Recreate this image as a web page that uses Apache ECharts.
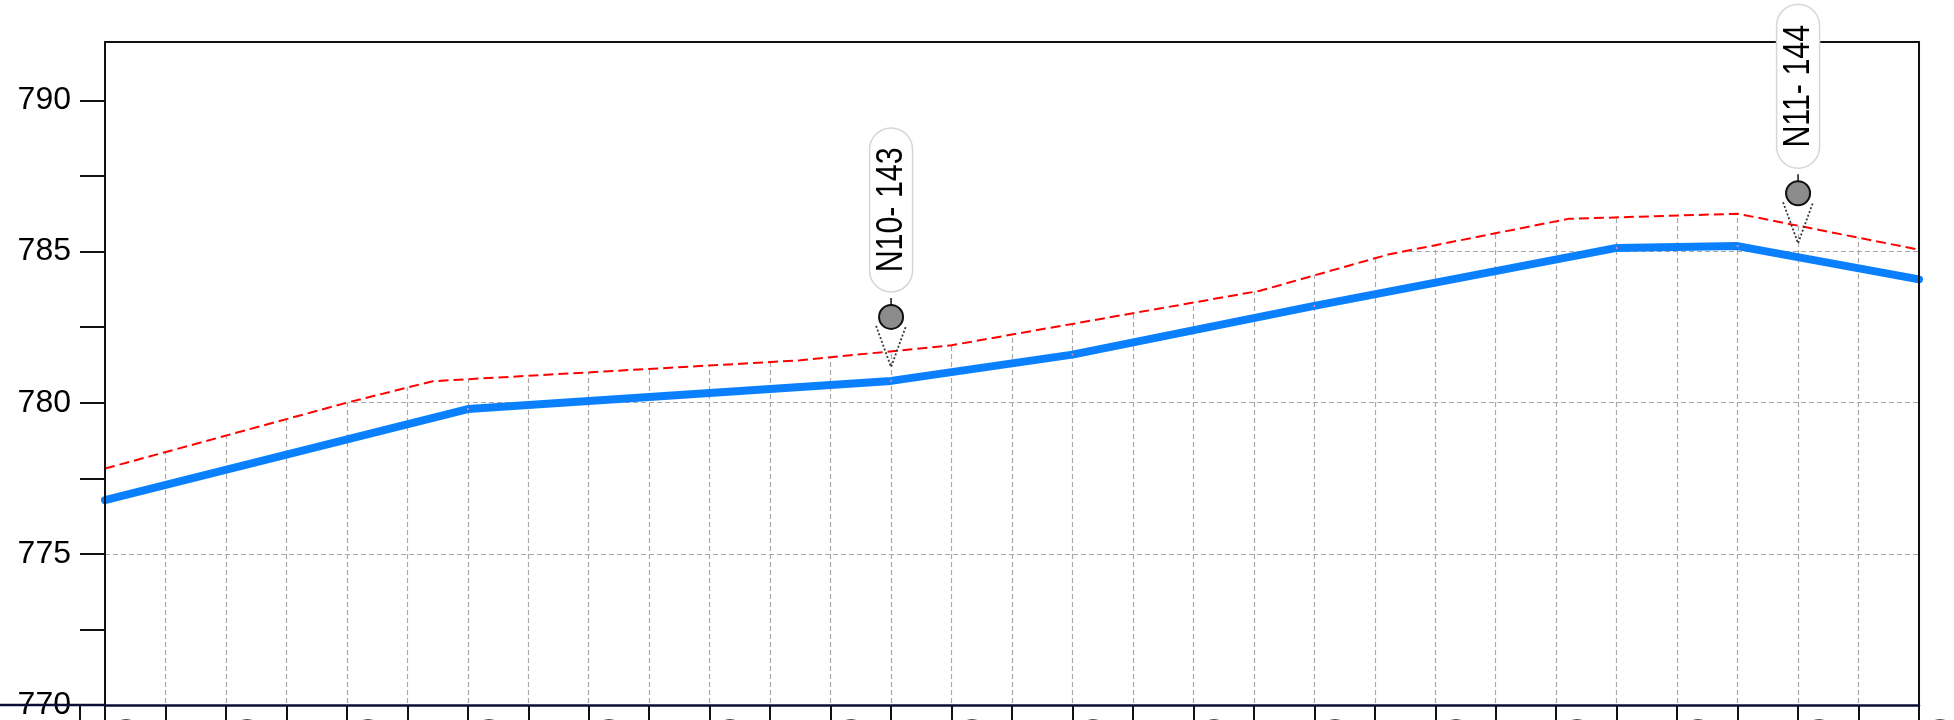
<!DOCTYPE html>
<html>
<head>
<meta charset="utf-8">
<script src="https://cdn.jsdelivr.net/npm/echarts@6/dist/echarts.min.js"></script>
<style>
html,body{margin:0;padding:0;background:#fff;}
#chart{width:1954px;height:720px;}
</style>
</head>
<body>
<div id="chart"></div>
<script>
// ---- data ----
const xTickValues = [0,20,40,60,80,100,120,140,160,180,200,220,240,260,280,300,320,340,360,380,400,420,440,460,480,500,520,540,560,580,600];
const xTickLabels = ['0+000','0+040','0+080','0+120','0+160','0+200','0+240','0+280','0+320','0+360','0+400','0+440','0+480','0+520','0+560','0+600'];
const yTickValues = [770,772.5,775,777.5,780,782.5,785,787.5,790];
const yLabelValues = [770,775,780,785,790];

const profileX = [0,120,260,320,400,500,540,600];
const profileY = [776.78,779.79,780.72,781.59,783.2,785.12,785.18,784.08];

const groundX = [0,80,108.4,230,280,382,424.4,484,540,600];
const groundY = [777.82,780.0,780.71,781.40,781.9,783.7,784.9,786.08,786.25,785.06];

const markerX = [260,560];
const markerY = [780.72,784.81];
const markerLabels = ['N10- 143','N11- 144'];

// ---- build ----
const FONT = '"Liberation Sans", Arial, sans-serif';
const X_MIN = 0, X_MAX = 600, Y_MIN = 770, Y_MAX = 791.93;
const GRID = {left:105, right:35, top:42, bottom:15};

const profileData = profileX.map((x,i)=>[x,profileY[i]]);
const groundData = groundX.map((x,i)=>[x,groundY[i]]);
const markerData = markerX.map((x,i)=>[x,markerY[i]]);
const xLabelMap = {};
xTickLabels.forEach((t,i)=>{ xLabelMap[i*40] = t; });

const chart = echarts.init(document.getElementById('chart'), null, {renderer:'canvas'});

const hidden = {show:false};
const option = {
  animation:false,
  backgroundColor:'#fff',
  grid:{left:GRID.left, right:GRID.right, top:GRID.top, bottom:GRID.bottom, containLabel:false, outerBoundsMode:'none'},
  xAxis:[
    { // grid lines (under the white fill)
      type:'value', min:X_MIN, max:X_MAX, interval:20, position:'bottom',
      axisLine:hidden, axisTick:hidden, axisLabel:hidden,
      splitLine:{show:true, lineStyle:{color:'#a8a8a8', type:[5,3], width:1.2}}
    },
    { // visible bottom axis
      type:'value', min:X_MIN, max:X_MAX, interval:20, position:'bottom', z:5,
      axisLine:{show:true, onZero:false, lineStyle:{color:'#0d0d3a', width:2.5}},
      axisTick:{show:true, inside:false, length:20, lineStyle:{color:'#111', width:2}},
      axisLabel:{show:true, rotate:-90, margin:13, fontSize:30, fontFamily:FONT, color:'#000',
        verticalAlign:'bottom', padding:[0,0,4,0],
        formatter:function(v){ return xLabelMap[Math.round(v)] !== undefined ? xLabelMap[Math.round(v)] : ''; }},
      splitLine:hidden
    },
    { // top border
      type:'value', min:X_MIN, max:X_MAX, position:'top', z:5,
      axisLine:{show:true, onZero:false, lineStyle:{color:'#111', width:2}},
      axisTick:hidden, axisLabel:hidden, splitLine:hidden
    }
  ],
  yAxis:[
    {
      type:'value', min:Y_MIN, max:Y_MAX, interval:5, position:'left',
      axisLine:hidden, axisTick:hidden, axisLabel:hidden,
      splitLine:{show:true, lineStyle:{color:'#a8a8a8', type:[5,3], width:1.2}}
    },
    {
      type:'value', min:Y_MIN, max:Y_MAX, interval:2.5, position:'left', z:5,
      axisLine:{show:true, onZero:false, lineStyle:{color:'#111', width:2}},
      axisTick:{show:true, inside:false, length:25, customValues:yTickValues, lineStyle:{color:'#111', width:2}},
      axisLabel:{show:true, margin:34, fontSize:32, fontFamily:FONT, color:'#000', customValues:yLabelValues,
        padding:[0,0,10,0],
        formatter:function(v){ return String(Math.round(v)); }},
      splitLine:hidden
    },
    {
      type:'value', min:Y_MIN, max:Y_MAX, position:'right', z:5,
      axisLine:{show:true, onZero:false, lineStyle:{color:'#111', width:2}},
      axisTick:hidden, axisLabel:hidden, splitLine:hidden
    }
  ],
  series:[
    {
      type:'line', name:'ground', xAxisIndex:0, yAxisIndex:0, data:groundData,
      showSymbol:false, symbol:'none', z:2,
      lineStyle:{color:'#ff0000', width:2, type:[10,5]},
      areaStyle:{color:'#ffffff', opacity:1, origin:'end'}
    },
    {
      type:'line', name:'profile', xAxisIndex:0, yAxisIndex:0, data:profileData,
      showSymbol:true, symbol:'circle', symbolSize:2, z:3,
      itemStyle:{color:'#ff8a8a', borderWidth:0},
      lineStyle:{color:'#0a80ff', width:8, cap:'round', join:'round'}
    },
    {
      type:'custom', name:'markers', xAxisIndex:0, yAxisIndex:0, data:markerData, z:10, clip:false,
      renderItem:function(params, api){
        const p = api.coord([api.value(0), api.value(1)]);
        const x = p[0];
        const apexY = p[1] - 14;
        const cy = apexY - 50;
        const r = 12;
        const pillH = 164, pillW = 43;
        const pillBottom = cy - 25;
        const label = markerLabels[params.dataIndex];
        return {type:'group', children:[
          {type:'polyline', shape:{points:[[x-15,cy+9],[x,apexY],[x+15,cy+9]]},
            style:{stroke:'#3a3a3a', lineWidth:1.8, lineDash:[2,2], fill:null}},
          {type:'circle', shape:{cx:x, cy:cy, r:r}, style:{fill:'#8c8c8c', stroke:'#111', lineWidth:2}},
          {type:'line', shape:{x1:x, y1:cy-r-7, x2:x, y2:cy-r}, style:{stroke:'#111', lineWidth:1.5}},
          {type:'rect', shape:{x:x-pillW/2, y:pillBottom-pillH, width:pillW, height:pillH, r:pillW/2},
            style:{fill:'#ffffff', stroke:'#d6d6d6', lineWidth:1.5}},
          {type:'text', x:x+1, y:pillBottom-pillH/2, rotation:Math.PI/2, scaleX:0.82, scaleY:1,
            style:{text:label, fill:'#000', font:'37px ' + FONT, align:'center', verticalAlign:'middle'}}
        ]};
      }
    }
  ],
  graphic:[
    {type:'line', z:6, shape:{x1:0, y1:720-GRID.bottom, x2:GRID.left, y2:720-GRID.bottom},
      style:{stroke:'#0d0d3a', lineWidth:2.5}},
    {type:'line', z:6, shape:{x1:GRID.left-25, y1:720-GRID.bottom, x2:GRID.left-25, y2:720},
      style:{stroke:'#111', lineWidth:2}}
  ]
};
chart.setOption(option);
</script>
</body>
</html>
